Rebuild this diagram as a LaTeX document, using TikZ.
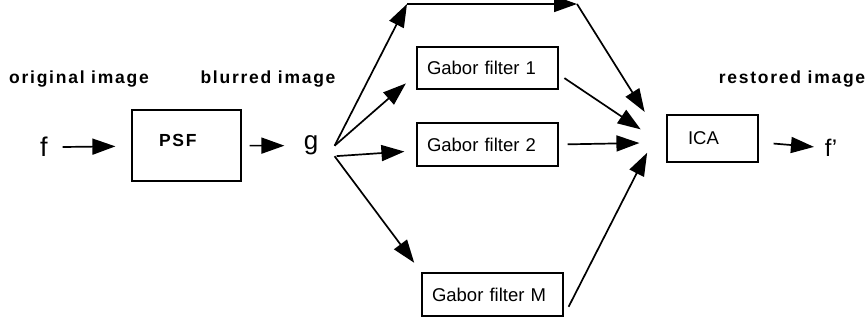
\documentclass[tikz,border=0pt]{standalone}
\usepackage{fontspec}
\setmainfont{Liberation Sans}
\newfontfamily\lblfont[LetterSpace=10]{Liberation Sans}
\usetikzlibrary{arrows.meta}

\begin{document}
\begin{tikzpicture}[x=1pt,y=-1pt,>={Triangle[length=23pt,width=16pt]},line width=1.7pt,
    box/.style={draw,rectangle,line width=1.2pt,inner ysep=0pt,align=left,font=\fontsize{18.5}{20}\selectfont},
    lbl/.style={font=\lblfont\bfseries\fontsize{17.5}{19}\selectfont},
    sig/.style={anchor=base,inner sep=0pt}]
    \useasboundingbox (0,0) rectangle (867,323);

    \node[lbl] (origlbl) at (79,79) {original image};
    \node[lbl] (blurlbl) at (268,79) {blurred image};
    \node[lbl] (restlbl) at (792,79) {restored image};

    \node[sig,font=\fontsize{27}{30}\selectfont] (f) at (44,157) {f};
    \node[box,lbl,text width=55pt,inner xsep=27pt,minimum height=71pt,text height=12pt,text depth=9pt] (psf) at (186.5,145.5) {PSF};
    \node[sig,inner xsep=15.5pt,font=\fontsize{26}{28}\selectfont] (g) at (311,150) {g};
    \node[box,text width=121pt,inner xsep=10pt,minimum height=42pt] (gf1) at (487.5,68) {Gabor filter 1};
    \node[box,text width=121pt,inner xsep=10pt,minimum height=43pt] (gf2) at (487.5,144.5) {Gabor filter 2};
    \node[box,text width=121pt,inner xsep=10pt,minimum height=43pt] (gfm) at (492.5,294.5) {Gabor filter M};
    \node[box,text width=49pt,inner xsep=21pt,minimum height=47pt] (ica) at (712.5,138.5) {ICA};
    \node[sig,font=\fontsize{24}{26}\selectfont] (fp) at (831,157) {f'};

    \coordinate (tl) at (407,4);
    \coordinate (tr) at (577,4);

    \path[->] (f) edge[shorten <=14pt,shorten >=16pt] (psf);
    \path[->] (psf) edge[shorten <=8pt,shorten >=3pt] (g);
    \path[->] (g.east) edge (tl);
    \path[->] (tl) edge (tr);
    \path[->] (tr) edge[shorten >=41pt] (ica.190);
    \path[->] (g.east) edge[shorten >=14pt] (gf1.185);
    \path[->] (g.south east) edge[shorten <=2pt,shorten >=12pt] (gf2.185);
    \path[->] (g.south east) edge[shorten >=12pt] (gfm.north west);
    \path[->] (gf1.355) edge[shorten <=7pt,shorten >=31pt] (ica.190);
    \path[->] (gf2.east) edge[shorten <=9pt,shorten >=27pt] (ica.185);
    \path[->] (gfm.south east) edge[shorten <=11pt,shorten >=16pt] ([xshift=-12pt]ica.west);
    \path[->] (ica) edge[shorten <=15pt,shorten >=10pt] (fp);
\end{tikzpicture}
\end{document}
